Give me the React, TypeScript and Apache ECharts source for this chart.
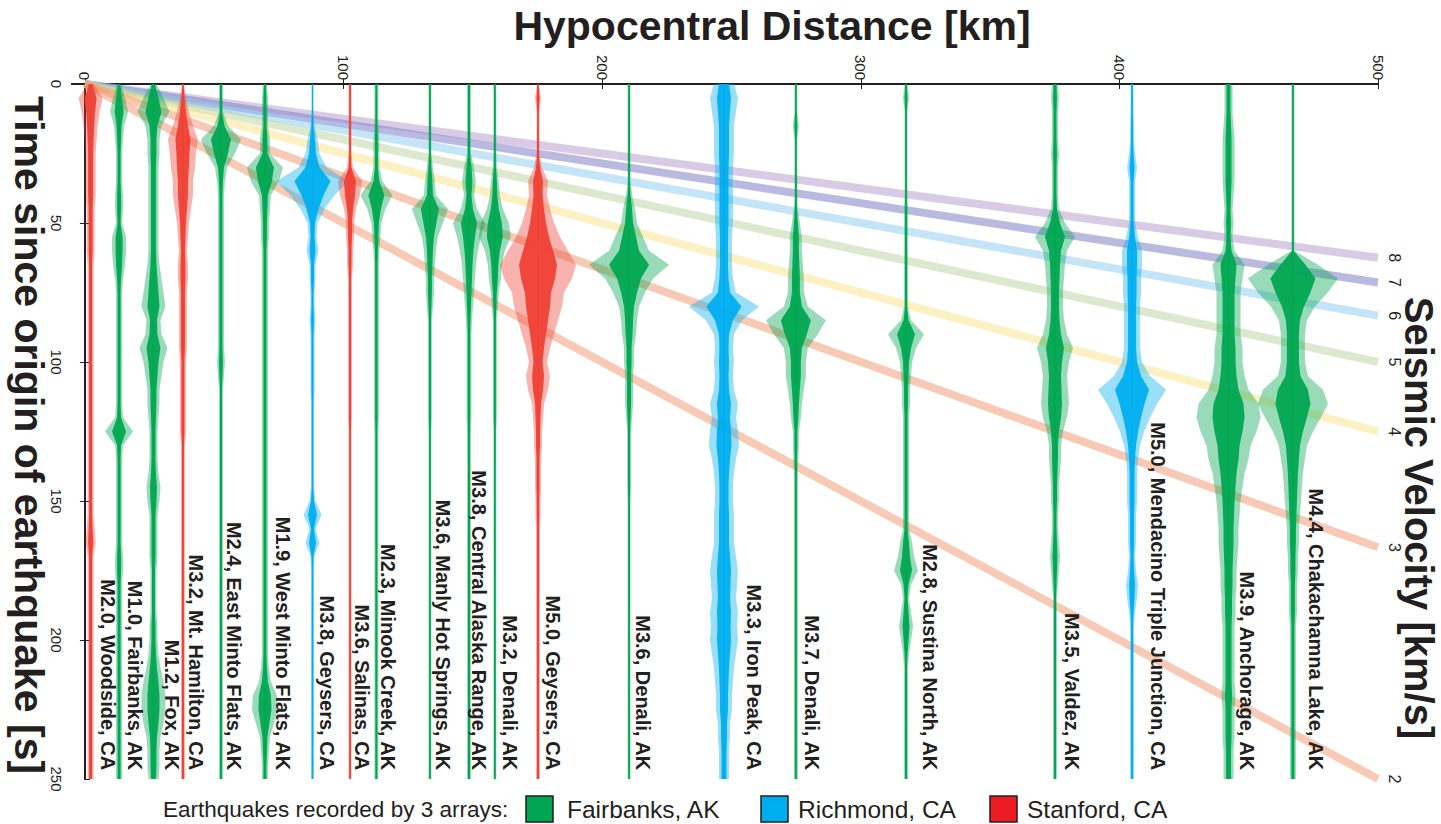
import React, { useEffect, useRef } from "react";
import * as echarts from "echarts";

// ---------------- DATA ----------------
const TIME_S = [
  0, 5, 10, 15, 20, 25, 30, 35, 40, 45,
  50, 55, 60, 65, 70, 75, 80, 85, 90, 95,
  100, 105, 110, 115, 120, 125, 130, 135, 140, 145,
  150, 155, 160, 165, 170, 175, 180, 185, 190, 195,
  200, 205, 210, 215, 220, 225, 230, 235, 240, 245,
  250,
];
const DISTANCE_TICKS_KM = [0, 100, 200, 300, 400, 500];
const TIME_TICKS_S = [0, 50, 100, 150, 200, 250];
const VELOCITY_TICKS_S = [50, 100, 150, 200];
const VELOCITIES_KMS = [8, 7, 6, 5, 4, 3, 2];
const MAX_DISTANCE_KM = 500;
const NETWORKS = ["Fairbanks, AK", "Richmond, CA", "Stanford, CA"];

const EVENT_LABELS = [
  "M2.0, Woodside, CA",
  "M1.0, Fairbanks, AK",
  "M1.2, Fox, AK",
  "M3.2, Mt. Hamilton, CA",
  "M2.4, East Minto Flats, AK",
  "M1.9, West Minto Flats, AK",
  "M3.8, Geysers, CA",
  "M3.6, Salinas, CA",
  "M2.3, Minook Creek, AK",
  "M3.6, Manly Hot Springs, AK",
  "M3.8, Central Alaska Range, AK",
  "M3.2, Denali, AK",
  "M5.0, Geysers, CA",
  "M3.6, Denali, AK",
  "M3.3, Iron Peak, CA",
  "M3.7, Denali, AK",
  "M2.8, Sustina North, AK",
  "M3.5, Valdez, AK",
  "M5.0, Mendacino Triple Junction, CA",
  "M3.9, Anchorage, AK",
  "M4.4, Chakachamna Lake, AK",
];
// index into NETWORKS
const EVENT_NETWORK = [2, 0, 0, 2, 0, 0, 1, 2, 0, 0, 0, 0, 2, 0, 1, 0, 0, 0, 1, 0, 0];
const EVENT_DISTANCE_KM = [
  2.2, 13.2, 26.5, 37.9, 52.6, 69.6, 88.0, 102.5, 112.7, 133.4, 148.5,
  158.5, 175.2, 210.4, 247.1, 274.9, 317.5, 375.1, 404.9, 442.2, 467.1,
];

// envelope half-amplitudes (relative units), one value per TIME_S sample
const AMP_WOODSIDE = [3, 12, 9, 7, 6, 5, 5, 5, 5, 4, 4, 4, 4, 3, 3, 3, 3, 3, 3, 3, 3, 3, 3, 3, 3, 3, 3, 3, 3, 3, 3, 3, 4, 5, 3, 3, 3, 3, 3, 3, 3, 3, 3, 3, 3, 3, 3, 3, 3, 3, 3];
const AMP_FAIRBANKS = [2, 6, 9, 5, 4, 3, 3, 3, 4, 4, 3, 7, 7, 6, 4, 3, 3, 3, 3, 3, 3, 3, 3, 3, 4, 14, 4, 3, 3, 3, 3, 3, 3, 3, 4, 4, 3, 3, 3, 3, 3, 3, 3, 3, 3, 3, 3, 3, 3, 3, 3];
const AMP_FOX = [3, 10, 16, 8, 6, 6, 5, 5, 5, 5, 5, 5, 5, 6, 8, 10, 12, 7, 8, 14, 10, 8, 6, 6, 5, 4, 4, 4, 5, 7, 6, 4, 4, 4, 4, 3, 3, 3, 3, 4, 4, 5, 7, 10, 12, 12, 10, 7, 6, 6, 5];
const AMP_HAMILTON = [1, 3, 6, 10, 15, 13, 12, 10, 10, 8, 6, 5, 4, 5, 5, 4, 4, 4, 4, 4, 3, 3, 3, 3, 3, 3, 2, 2, 2, 2, 2, 2, 2, 2, 2, 2, 2, 2, 2, 2, 2, 2, 2, 2, 2, 2, 2, 2, 2, 2, 2];
const AMP_EAST_MINTO = [2, 2, 2, 7, 20, 14, 6, 4, 3, 3, 3, 3, 3, 3, 3, 3, 3, 3, 3, 3, 4, 3, 2, 2, 2, 2, 2, 2, 2, 2, 2, 2, 2, 2, 2, 2, 2, 2, 2, 2, 2, 2, 2, 2, 2, 2, 2, 2, 2, 2, 2];
const AMP_WEST_MINTO = [2, 3, 3, 3, 5, 5, 18, 14, 6, 5, 4, 4, 3, 3, 3, 3, 3, 3, 3, 3, 3, 3, 3, 3, 3, 3, 3, 3, 3, 3, 3, 3, 3, 3, 3, 3, 3, 3, 3, 3, 3, 3, 4, 6, 12, 13, 9, 5, 4, 3, 3];
const AMP_GEYSERS_38 = [1, 1, 1, 2, 5, 7, 14, 36, 22, 12, 5, 4, 6, 3, 3, 2, 2, 3, 2, 2, 2, 2, 2, 1.5, 1.5, 1.5, 1.5, 1.5, 1.5, 1.5, 3, 9, 3, 7, 2, 1.5, 1.5, 1.5, 1.5, 1.5, 1.5, 1.5, 1.5, 1.5, 1.5, 1.5, 1.5, 1.5, 1.5, 1.5, 1.5];
const AMP_SALINAS = [1.5, 1.5, 1.5, 1.5, 1.5, 1.5, 3, 12, 10, 6, 4, 4, 3, 3, 2, 2, 2, 2, 2, 2, 2, 2, 2, 2, 2, 1.5, 1.5, 1.5, 1.5, 1.5, 1.5, 1.5, 1.5, 1.5, 1.5, 1.5, 1.5, 1.5, 1.5, 1.5, 1.5, 1.5, 1.5, 1.5, 1.5, 1.5, 1.5, 1.5, 1.5, 1.5, 1.5];
const AMP_MINOOK = [2, 2, 2, 2, 3, 3, 3, 6, 16, 9, 5, 4, 3, 2.5, 2.5, 2.5, 2.5, 2.5, 2.5, 2.5, 2.5, 2.5, 2.5, 2.5, 2.5, 2, 2, 2, 2, 2, 2, 2, 2, 2, 2, 2, 2, 2, 2, 2, 2, 2, 2, 2, 2, 2, 2, 2, 2, 2, 2];
const AMP_MANLY = [1.5, 1.5, 1.5, 1.5, 1.5, 1.5, 3, 5, 6, 18, 13, 8, 6, 5, 4, 4, 3, 2, 2, 2, 2, 2, 2, 2, 2, 1.5, 1.5, 1.5, 1.5, 1.5, 1.5, 1.5, 1.5, 1.5, 1.5, 1.5, 1.5, 1.5, 1.5, 1.5, 1.5, 1.5, 1.5, 1.5, 1.5, 1.5, 1.5, 1.5, 1.5, 1.5, 1.5];
const AMP_CENTRAL_AK = [2, 2, 2, 2, 2, 2, 5, 7, 5, 8, 16, 12, 9, 7, 6, 5, 4, 3, 2.5, 2.5, 2.5, 2.5, 2.5, 2.5, 2.5, 2, 2, 2, 2, 2, 2, 2, 2, 2, 2, 2, 2, 2, 2, 2, 2, 2, 2, 2, 2, 2, 2, 2, 2, 2, 2];
const AMP_DENALI_32 = [1.5, 1.5, 1.5, 1.5, 1.5, 1.5, 2, 4, 5, 8, 14, 16, 10, 7, 6, 4, 3, 2, 2, 2, 2, 2, 2, 2, 2, 1.5, 1.5, 1.5, 1.5, 1.5, 1.5, 1.5, 1.5, 1.5, 1.5, 1.5, 1.5, 1.5, 1.5, 1.5, 1.5, 1.5, 1.5, 1.5, 1.5, 1.5, 1.5, 1.5, 1.5, 1.5, 1.5];
const AMP_GEYSERS_50 = [1, 3, 1.5, 1.5, 1.5, 1.5, 4, 10, 9, 12, 16, 22, 30, 38, 34, 26, 24, 20, 16, 12, 9, 12, 10, 6, 5, 4, 4, 3, 3, 3, 2.5, 2.5, 2, 2, 2, 2, 2, 2, 2, 2, 2, 2, 2, 2, 2, 2, 2, 2, 2, 2, 2];
const AMP_DENALI_36 = [1.5, 1.5, 1.5, 1.5, 1.5, 1.5, 1.5, 1.5, 3, 6, 8, 14, 20, 40, 24, 16, 10, 8, 7, 5, 5, 4, 4, 4, 3, 2, 2, 2, 2, 2, 1.5, 1.5, 1.5, 1.5, 1.5, 1.5, 1.5, 1.5, 1.5, 1.5, 1.5, 1.5, 1.5, 1.5, 1.5, 1.5, 1.5, 1.5, 1.5, 1.5, 1.5];
const AMP_IRON_PEAK = [10, 14, 12, 10, 10, 10, 9, 9, 9, 9, 9, 8, 8, 8, 9, 12, 35, 18, 10, 9, 10, 9, 10, 14, 12, 14, 15, 12, 10, 9, 9, 10, 10, 10, 12, 14, 13, 12, 14, 13, 14, 12, 10, 9, 8, 8, 6, 6, 5, 5, 5];
const AMP_DENALI_37 = [1.5, 1.5, 1.5, 3, 1.5, 1.5, 1.5, 1.5, 1.5, 2, 4, 6, 6, 7, 8, 8, 12, 30, 22, 12, 10, 10, 8, 6, 5, 3, 3, 2.5, 2, 2, 2, 2, 2, 2, 2, 2, 2, 2, 2, 2, 2, 2, 2, 2, 2, 2, 2, 2, 2, 2, 2];
const AMP_SUSTINA = [1.5, 3, 1.5, 1.5, 1.5, 1.5, 1.5, 1.5, 1.5, 2, 2, 2, 2, 2, 2, 2, 2, 5, 18, 10, 6, 5, 4, 4, 3, 3, 3, 3, 3, 3, 3, 3, 3, 6, 8, 12, 5, 3, 5, 7, 5, 3, 2, 2, 2, 2, 2, 2, 2, 2, 2];
const AMP_VALDEZ = [3, 4, 3, 3, 3, 4, 3, 3, 3, 4, 10, 20, 12, 10, 9, 8, 8, 9, 12, 18, 14, 12, 13, 14, 12, 8, 6, 6, 5, 4, 4, 3, 3, 4, 5, 4, 3, 2, 2, 2, 2, 2, 2, 2, 2, 2, 2, 2, 2, 2, 2];
const AMP_MENDACINO = [1.5, 1.5, 1.5, 2, 2, 3, 5, 3, 3, 3, 3, 6, 10, 10, 9, 9, 8, 8, 8, 8, 10, 18, 34, 25, 18, 12, 8, 6, 5, 5, 5, 4, 4, 4, 3, 4, 6, 5, 3, 2, 2, 2, 2, 2, 2, 2, 2, 2, 2, 2, 2];
const AMP_ANCHORAGE = [4, 4, 4, 5, 6, 6, 6, 6, 5, 4, 5, 4, 6, 16, 14, 12, 12, 12, 12, 14, 14, 16, 20, 30, 32, 28, 22, 20, 16, 14, 12, 11, 10, 10, 9, 8, 8, 7, 7, 6, 6, 6, 6, 6, 7, 6, 6, 6, 5, 5, 5];
const AMP_CHAKACHAMNA = [1.5, 1.5, 1.5, 1.5, 1.5, 1.5, 1.5, 1.5, 1.5, 1.5, 1.5, 1.5, 1.5, 25, 45, 35, 22, 14, 12, 12, 12, 15, 30, 35, 28, 20, 14, 12, 10, 9, 8, 7, 6, 6, 5, 5, 4, 4, 4, 3, 3, 3, 3, 3, 3, 3, 3, 3, 3, 3, 3];

const ENVELOPES = [
  AMP_WOODSIDE, AMP_FAIRBANKS, AMP_FOX, AMP_HAMILTON, AMP_EAST_MINTO,
  AMP_WEST_MINTO, AMP_GEYSERS_38, AMP_SALINAS, AMP_MINOOK, AMP_MANLY,
  AMP_CENTRAL_AK, AMP_DENALI_32, AMP_GEYSERS_50, AMP_DENALI_36, AMP_IRON_PEAK,
  AMP_DENALI_37, AMP_SUSTINA, AMP_VALDEZ, AMP_MENDACINO, AMP_ANCHORAGE,
  AMP_CHAKACHAMNA,
];

// ---------------- LAYOUT / STYLE ----------------
const LABEL_X_KM = [
  8.8, 19.3, 33.6, 42.9, 57.8, 76.7, 93.5, 107.1, 117.1, 138.4, 152.4,
  164.2, 181.0, 215.8, 258.6, 281.0, 326.8, 381.8, 415.0, 449.2, 476.0,
];
const LABEL_END_T = 246.8;
const KM_PER_AMP = 0.387;
const CORE_FRACTION = 0.5;
const NETWORK_COLORS = ["#00a651", "#00aeef", "#ef4136"];
const LEGEND_FILLS = ["#00a651", "#00aeef", "#ed1c24"];
const VELOCITY_COLORS = [
  "rgba(186,160,210,0.55)",
  "rgba(140,140,205,0.6)",
  "rgba(137,203,241,0.5)",
  "rgba(187,211,159,0.5)",
  "rgba(251,225,133,0.5)",
  "rgba(242,150,110,0.5)",
  "rgba(242,150,110,0.5)",
];
const INK = "#231f20";
const FONT = '"Liberation Sans", Arial, Helvetica, sans-serif';

export default function App() {
  const ref = useRef<HTMLDivElement>(null);

  useEffect(() => {
    if (!ref.current) return;
    const chart = echarts.init(ref.current, undefined, { renderer: "svg" });

    const gridLeft = 72, gridTop = 84, gridW = 1306, gridH = 695;

    const velocitySeries = VELOCITIES_KMS.map((v, i) => ({
      type: "line",
      xAxisIndex: 0,
      yAxisIndex: 0,
      data: [
        [0, 0],
        [MAX_DISTANCE_KM, MAX_DISTANCE_KM / v],
      ],
      symbol: "none",
      silent: true,
      z: 1,
      lineStyle: { width: 8, color: VELOCITY_COLORS[i], cap: "butt" },
    }));

    const envelopePoints = (api: any, d: number, amps: number[], f: number) => {
      const right = TIME_S.map((t, k) => api.coord([d + amps[k] * KM_PER_AMP * f, t]));
      const left = TIME_S.map((t, k) => api.coord([d - amps[k] * KM_PER_AMP * f, t])).reverse();
      return right.concat(left);
    };

    const traceSeries = {
      type: "custom",
      xAxisIndex: 0,
      yAxisIndex: 0,
      z: 3,
      silent: true,
      clip: true,
      data: EVENT_DISTANCE_KM.map((d, i) => [d, 0, i]),
      encode: { x: 0, y: 1 },
      renderItem: (params: any, api: any) => {
        const i = params.dataIndex;
        const d = EVENT_DISTANCE_KM[i];
        const amps = ENVELOPES[i];
        const top = api.coord([d, 0]);
        const bottom = api.coord([d, 250]);
        const color = NETWORK_COLORS[EVENT_NETWORK[i]];
        return {
          type: "group",
          children: [
            {
              type: "polygon",
              shape: { points: envelopePoints(api, d, amps, 1) },
              style: { fill: color, opacity: 0.4 },
            },
            {
              type: "polygon",
              shape: { points: envelopePoints(api, d, amps, CORE_FRACTION) },
              style: { fill: color, opacity: 0.95 },
            },
            {
              type: "line",
              shape: { x1: top[0], y1: top[1], x2: bottom[0], y2: bottom[1] },
              style: { stroke: color, lineWidth: 1.2 },
            },
          ],
        };
      },
    };

    const labelSeries = {
      type: "custom",
      xAxisIndex: 0,
      yAxisIndex: 0,
      z: 5,
      silent: true,
      clip: false,
      data: LABEL_X_KM.map((x, i) => [x, LABEL_END_T, i]),
      encode: { x: 0, y: 1 },
      renderItem: (params: any, api: any) => {
        const i = params.dataIndex;
        const p = api.coord([LABEL_X_KM[i], LABEL_END_T]);
        return {
          type: "text",
          x: p[0],
          y: p[1],
          rotation: -Math.PI / 2,
          style: {
            text: EVENT_LABELS[i],
            fill: INK,
            font: `bold 20px ${FONT}`,
            align: "right",
            verticalAlign: "middle",
          },
        };
      },
    };

    const legendGraphics: any[] = [
      {
        type: "text",
        x: 163,
        y: 809,
        style: {
          text: "Earthquakes recorded by 3 arrays:",
          fill: INK,
          font: `22.5px ${FONT}`,
          align: "left",
          verticalAlign: "middle",
        },
      },
    ];
    const legendSquareX = [526, 761, 990];
    const legendTextX = [567, 798, 1027];
    NETWORKS.forEach((name, i) => {
      legendGraphics.push({
        type: "rect",
        shape: { x: legendSquareX[i], y: 796, width: 27, height: 26 },
        style: { fill: LEGEND_FILLS[i], stroke: INK, lineWidth: 1.5 },
      });
      legendGraphics.push({
        type: "text",
        x: legendTextX[i],
        y: 809,
        style: {
          text: name,
          fill: INK,
          font: `24.5px ${FONT}`,
          align: "left",
          verticalAlign: "middle",
        },
      });
    });

    const axisLine = { show: true, lineStyle: { color: INK, width: 2 } };
    const tickLabelStyle = {
      color: INK,
      fontSize: 15,
      fontFamily: FONT,
      rotate: -90,
    };

    const option: any = {
      animation: false,
      backgroundColor: "#ffffff",
      grid: { left: gridLeft, top: gridTop, width: gridW, height: gridH, containLabel: false },
      xAxis: [
        {
          type: "value",
          position: "top",
          min: -5,
          max: MAX_DISTANCE_KM,
          axisLine,
          splitLine: { show: false },
          axisTick: { show: true, inside: true, length: 5, customValues: DISTANCE_TICKS_KM, lineStyle: { color: INK, width: 1 } },
          axisLabel: { ...tickLabelStyle, margin: 4, customValues: DISTANCE_TICKS_KM },
        },
        {
          type: "value",
          position: "bottom",
          min: -5,
          max: MAX_DISTANCE_KM,
          axisLine,
          splitLine: { show: false },
          axisTick: { show: true, inside: true, length: 5, customValues: DISTANCE_TICKS_KM, lineStyle: { color: INK, width: 1 } },
          axisLabel: { show: false },
        },
      ],
      yAxis: [
        {
          type: "value",
          position: "left",
          inverse: true,
          min: 0,
          max: 250,
          axisLine,
          splitLine: { show: false },
          axisTick: { show: true, inside: true, length: 5, customValues: TIME_TICKS_S, lineStyle: { color: INK, width: 1 } },
          axisLabel: { ...tickLabelStyle, margin: 8, customValues: TIME_TICKS_S },
        },
        {
          type: "value",
          position: "right",
          inverse: true,
          min: 0,
          max: 250,
          axisLine,
          splitLine: { show: false },
          axisTick: { show: true, inside: true, length: 5, customValues: VELOCITY_TICKS_S, lineStyle: { color: INK, width: 1 } },
          axisLabel: {
            ...tickLabelStyle,
            fontSize: 16,
            margin: 8,
            customValues: VELOCITIES_KMS.map((v) => MAX_DISTANCE_KM / v),
            formatter: (val: number) => {
              const idx = VELOCITIES_KMS.findIndex((v) => Math.abs(MAX_DISTANCE_KM / v - val) < 0.01);
              return idx >= 0 ? String(VELOCITIES_KMS[idx]) : "";
            },
          },
        },
      ],
      series: [...velocitySeries, traceSeries, labelSeries],
      graphic: [
        {
          type: "text",
          x: 772,
          y: 26,
          style: {
            text: "Hypocentral Distance [km]",
            fill: INK,
            font: `bold 41px ${FONT}`,
            align: "center",
            verticalAlign: "middle",
          },
        },
        {
          type: "text",
          x: 29,
          y: 435,
          rotation: -Math.PI / 2,
          style: {
            text: "Time since origin of earthquake [s]",
            fill: INK,
            font: `bold 41px ${FONT}`,
            align: "center",
            verticalAlign: "middle",
          },
        },
        {
          type: "text",
          x: 1419,
          y: 518,
          rotation: -Math.PI / 2,
          style: {
            text: "Seismic Velocity [km/s]",
            fill: INK,
            font: `bold 40px ${FONT}`,
            align: "center",
            verticalAlign: "middle",
          },
        },
        ...legendGraphics,
      ],
    };

    chart.setOption(option);
    return () => chart.dispose();
  }, []);

  return (
    <div
      ref={ref}
      style={{ position: "absolute", left: 0, top: 0, width: 1441, height: 824, background: "#fff" }}
    />
  );
}
